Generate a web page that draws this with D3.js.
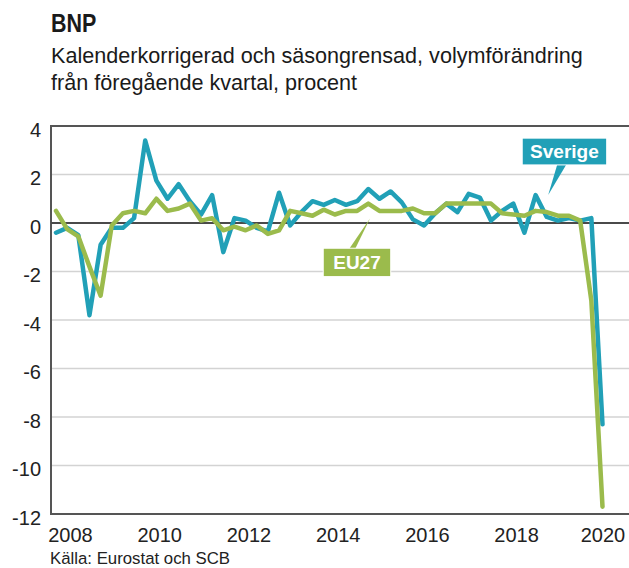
<!DOCTYPE html>
<html lang="sv">
<head>
<meta charset="utf-8">
<script src="https://cdn.jsdelivr.net/npm/d3@7"></script>
<style>
  html, body { margin: 0; padding: 0; background: #fff; }
  svg { display: block; font-family: "Liberation Sans", Arial, Helvetica, sans-serif; }
</style>
</head>
<body>
<svg id="chart" width="629" height="568"></svg>
<script>
// Kvartal 2008K1–2020K2
const quarters = [
  "2008K1","2008K2","2008K3","2008K4","2009K1","2009K2","2009K3","2009K4",
  "2010K1","2010K2","2010K3","2010K4","2011K1","2011K2","2011K3","2011K4",
  "2012K1","2012K2","2012K3","2012K4","2013K1","2013K2","2013K3","2013K4",
  "2014K1","2014K2","2014K3","2014K4","2015K1","2015K2","2015K3","2015K4",
  "2016K1","2016K2","2016K3","2016K4","2017K1","2017K2","2017K3","2017K4",
  "2018K1","2018K2","2018K3","2018K4","2019K1","2019K2","2019K3","2019K4",
  "2020K1","2020K2"
];

// BNP-förändring från föregående kvartal, procent
const sverige = [
  -0.4, -0.2, -0.5, -3.8, -0.9, -0.2, -0.2, 0.2,
  3.4, 1.75, 1.0, 1.6, 0.9, 0.35, 1.15, -1.2,
  0.2, 0.1, -0.2, -0.35, 1.25, -0.1, 0.45, 0.9,
  0.75, 0.95, 0.75, 0.9, 1.4, 1.0, 1.3, 0.85,
  0.15, -0.1, 0.4, 0.8, 0.45, 1.2, 1.05, 0.1,
  0.5, 0.8, -0.4, 1.15, 0.25, 0.1, 0.2, 0.1,
  0.2, -8.3
];
const eu27 = [
  0.5, -0.25, -0.55, -1.8, -3.0, -0.1, 0.4, 0.5,
  0.4, 1.0, 0.5, 0.6, 0.8, 0.1, 0.2, -0.3,
  -0.15, -0.3, -0.1, -0.45, -0.3, 0.5, 0.4, 0.3,
  0.55, 0.35, 0.5, 0.5, 0.8, 0.5, 0.5, 0.5,
  0.6, 0.4, 0.4, 0.8, 0.8, 0.8, 0.8, 0.8,
  0.4, 0.35, 0.3, 0.5, 0.45, 0.3, 0.3, 0.1,
  -3.2, -11.7
];

const yearLabels = ["2008","2010","2012","2014","2016","2018","2020"];
const yTicks = [4, 2, 0, -2, -4, -6, -8, -10, -12];

const COL_SE = "#21a0b7";
const COL_EU = "#9bbb4c";

const svg = d3.select("#chart");
const plot = { left: 51, right: 629, top: 126, bottom: 514 };

const x = d3.scalePoint().domain(quarters).range([56, 602.5]);
const y = d3.scaleLinear().domain([-12, 4]).range([plot.bottom, plot.top]);

// Rubriker
svg.append("text")
  .attr("transform", "translate(51,32) scale(0.86,1)")
  .attr("font-size", 25).attr("font-weight", "bold").attr("fill", "#1a1a1a")
  .text("BNP");
svg.append("text").attr("x", 51).attr("y", 63)
  .attr("font-size", 21.6).attr("fill", "#1a1a1a")
  .text("Kalenderkorrigerad och säsongrensad, volymförändring");
svg.append("text").attr("x", 51).attr("y", 90)
  .attr("font-size", 21.6).attr("fill", "#1a1a1a")
  .text("från föregående kvartal, procent");

// Stödlinjer
const grid = svg.append("g");
grid.selectAll("line").data(yTicks.filter(v => v !== 0 && v !== 4 && v !== -12))
  .join("line")
  .attr("x1", plot.left).attr("x2", plot.right)
  .attr("y1", d => y(d)).attr("y2", d => y(d))
  .attr("stroke", "#d3d3d3").attr("stroke-width", 1.5);

// Y-axel med etiketter
const yAxis = d3.axisLeft(y).tickValues(yTicks).tickSize(0).tickPadding(10)
  .tickFormat(d => d < 0 ? "-" + Math.abs(d) : String(d));
const gy = svg.append("g").attr("transform", `translate(${plot.left},0)`).call(yAxis);
gy.select(".domain").remove();
gy.selectAll("text")
  .attr("font-size", 20).attr("fill", "#222")
  .attr("font-family", "Liberation Sans, Arial, sans-serif")
  .attr("dy", "0.5em");

// Ram: topp, vänster, botten och nollinje
svg.append("line").attr("x1", plot.left).attr("x2", plot.right)
  .attr("y1", plot.top).attr("y2", plot.top)
  .attr("stroke", "#555").attr("stroke-width", 2);
svg.append("line").attr("x1", plot.left).attr("x2", plot.right)
  .attr("y1", plot.bottom).attr("y2", plot.bottom)
  .attr("stroke", "#555").attr("stroke-width", 2);
svg.append("line").attr("x1", plot.left).attr("x2", plot.left)
  .attr("y1", plot.top - 1).attr("y2", plot.bottom + 1)
  .attr("stroke", "#555").attr("stroke-width", 2);
svg.append("line").attr("x1", plot.left).attr("x2", plot.right)
  .attr("y1", y(0)).attr("y2", y(0))
  .attr("stroke", "#4a4a4a").attr("stroke-width", 2);

// X-axel: årsetiketter
const step = x.step();
const gx = svg.append("g");
gx.selectAll("text").data(yearLabels).join("text")
  .attr("x", d => Math.min(x(d + "K1") + 1.3 * step, 625 - 22))
  .attr("y", 542)
  .attr("text-anchor", "middle")
  .attr("font-size", 20).attr("fill", "#222")
  .text(d => d);

// Kurvor
const line = d3.line().x((d, i) => x(quarters[i])).y(d => y(d));
svg.append("path").datum(sverige)
  .attr("d", line).attr("fill", "none")
  .attr("stroke", COL_SE).attr("stroke-width", 4.5)
  .attr("stroke-linejoin", "round").attr("stroke-linecap", "round");
svg.append("path").datum(eu27)
  .attr("d", line).attr("fill", "none")
  .attr("stroke", COL_EU).attr("stroke-width", 4.5)
  .attr("stroke-linejoin", "round").attr("stroke-linecap", "round");

// Etikettrutor med pekare
function callout(label, color, box, tip, base) {
  const g = svg.append("g");
  g.append("path")
    .attr("d", `M${base[0]},${base[1]}L${tip[0]},${tip[1]}L${base[2]},${base[1]}Z`)
    .attr("fill", color);
  g.append("rect")
    .attr("x", box.x).attr("y", box.y).attr("width", box.w).attr("height", box.h)
    .attr("fill", color).attr("stroke", "#fff").attr("stroke-width", 1);
  g.append("text")
    .attr("x", box.x + box.w / 2).attr("y", box.y + box.h / 2 + 6.5)
    .attr("text-anchor", "middle").attr("font-size", 19).attr("font-weight", "bold")
    .attr("fill", "#fff").text(label);
}

// Sverige-etikett ovanför kurvorna, pekar ned mot 2019
{
  const tipX = x("2019K1") + 0.13 * step, tipY = y(1.15);
  const bx = x("2018K2") + 0.8 * step, by = y(3.5);
  callout("Sverige", COL_SE,
    { x: bx, y: by, w: 84.5, h: 26.8 },
    [tipX, tipY], [bx + 35, by + 26.5, bx + 44]);
}
// EU27-etikett under kurvorna, pekar upp mot 2015
{
  const tipX = x("2015K1") + 0.15 * step, tipY = y(0.19);
  const bx = x("2014K1") - 0.04 * step, by = y(-1.04);
  callout("EU27", COL_EU,
    { x: bx, y: by, w: 67.5, h: 28.4 },
    [tipX, tipY], [bx + 26, by + 0.5, bx + 32]);
}

// Källa
svg.append("text").attr("x", 50).attr("y", 564)
  .attr("font-size", 16.8).attr("fill", "#222")
  .text("Källa: Eurostat och SCB");
</script>
</body>
</html>
